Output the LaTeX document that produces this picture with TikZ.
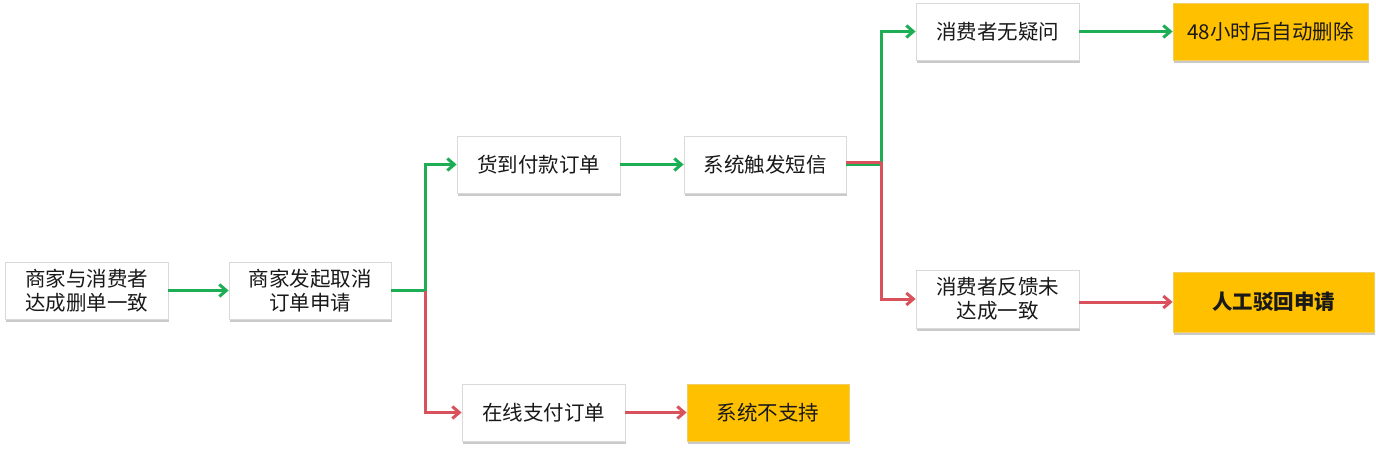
\documentclass[tikz,border=0pt]{standalone}
\usepackage{fontspec}
\setmainfont{Noto Sans CJK SC}
\usetikzlibrary{arrows.meta,shadows}
\definecolor{grn}{HTML}{1DAE55}
\definecolor{rd}{HTML}{D9515A}
\definecolor{org}{HTML}{FFC000}
\begin{document}
\begin{tikzpicture}[x=1pt,y=-1pt,
  box/.style={draw=black!15,line width=0.8pt,fill=white,minimum width=163pt,minimum height=57pt,
    align=center,inner sep=0pt,font=\fontsize{20.5}{24.5}\selectfont,text=black!90,
    drop shadow={shadow xshift=1pt,shadow yshift=-2.5pt,fill=black!35,opacity=0.6}},
  obox/.style={box,fill=org,draw=org!90!black!60},
  tip/.style={-{Straight Barb[length=7pt,width=12pt]}},
  garr/.style={draw=grn,line width=3pt,tip},
  rarr/.style={draw=rd,line width=3pt,tip},
  gline/.style={draw=grn,line width=3pt},
  rline/.style={draw=rd,line width=3pt}]
\useasboundingbox (0,0) rectangle (1376,450);
\node[box] (A) at (86.5,290.5) {商家与消费者\\达成删单一致};
\node[box,minimum width=162pt] (B) at (310,290.5) {商家发起取消\\订单申请};
\node[box] (C) at (538.5,164.5) {货到付款订单};
\node[box,minimum width=162pt] (D) at (765,164.5) {系统触发短信};
\node[box] (E) at (543.5,412.5) {在线支付订单};
\node[obox,minimum width=162pt] (F) at (768,412.5) {系统不支持};
\node[box] (G) at (997.5,31.5) {消费者无疑问};
\node[obox,minimum width=195pt,minimum height=57pt] (H) at (1270.5,31.5) {48小时后自动删除};
\node[box,minimum height=58pt] (I) at (997.5,299) {消费者反馈未\\达成一致};
\node[obox,minimum width=201pt,minimum height=60pt,font=\fontsize{20.5}{24.5}\selectfont\bfseries] (J) at (1273.5,302) {人工驳回申请};
\coordinate (j1) at (425,290.5);
\coordinate (jg) at (881,164);
\coordinate (jr) at (881,162);
\coordinate (dg) at (846,164);
\coordinate (dr) at (846,162);
\coordinate (ie) at (1079,302);
% connectors
\draw[garr] (A) -- (B);
\draw[gline] (B.east) -- (j1);
\draw[garr] (j1) |- (C.west);
\draw[rarr] (j1) |- (E.west);
\draw[garr] (C) -- (D);
\draw[rarr] (E) -- (F);
\draw[gline] (dg) -- (jg);
\draw[garr] (jg) |- (G.west);
\draw[rline] (dr) -- (jr);
\draw[rarr] (jr) |- (I.west);
\draw[garr] (G) -- (H);
\draw[rarr] (ie) -- (J.west);
\end{tikzpicture}
\end{document}
